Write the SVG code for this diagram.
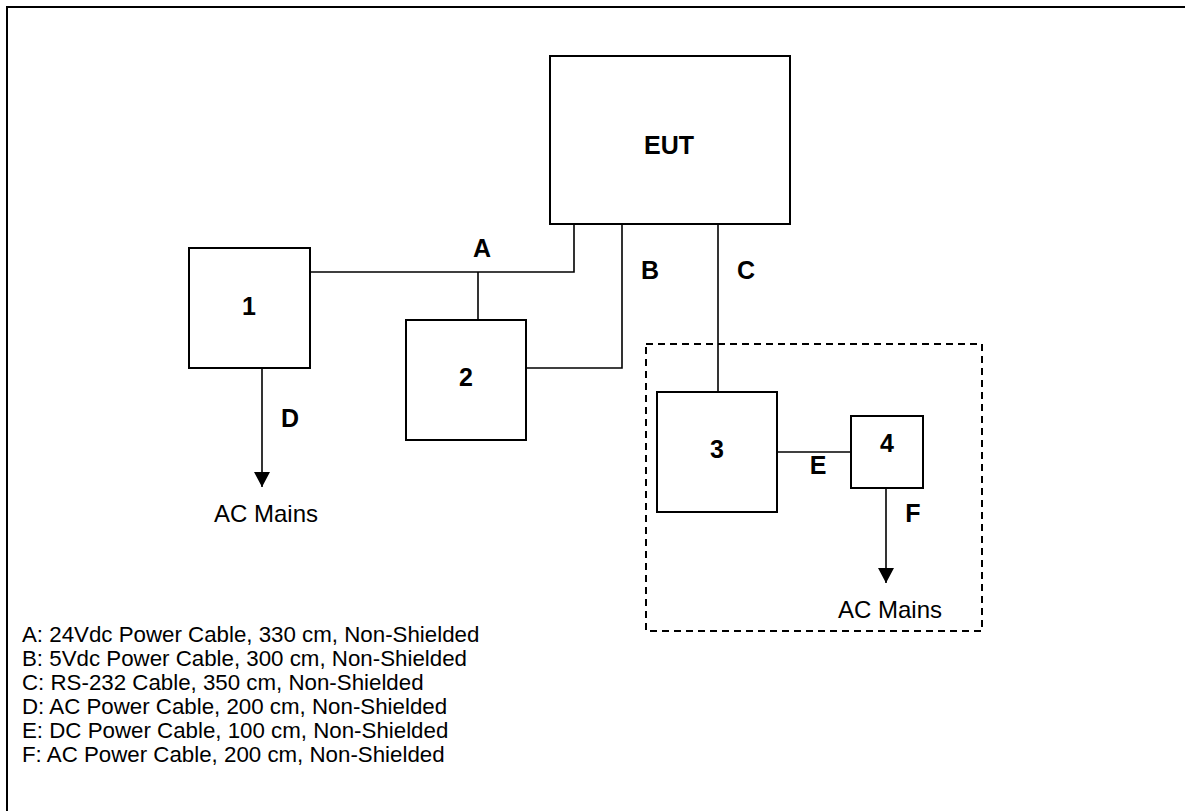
<svg xmlns="http://www.w3.org/2000/svg" width="1185" height="811" viewBox="0 0 1185 811">
<style>
.box{fill:#fff;stroke:#000;stroke-width:2}
.ln{fill:none;stroke:#000;stroke-width:1.6}
.lbl{font-family:"Liberation Sans",Arial,sans-serif;font-size:25px;font-weight:bold;fill:#000;text-anchor:middle}
.txt{font-family:"Liberation Sans",Arial,sans-serif;font-size:24px;fill:#000}
.leg{font-family:"Liberation Sans",Arial,sans-serif;font-size:22.3px;fill:#000}
.mid{text-anchor:middle}
</style>
<defs>
<marker id="arr" markerUnits="userSpaceOnUse" viewBox="0 0 15 16" markerWidth="15" markerHeight="16" refX="15" refY="8" orient="auto">
<path d="M0,0 L15,8 L0,16 Z" fill="#000"/>
</marker>
</defs>
<rect x="7" y="7" width="1200" height="900" fill="#fff" stroke="#000" stroke-width="2"/>
<rect id="enclosure" x="646" y="344" width="336" height="287" fill="none" stroke="#000" stroke-width="2" stroke-dasharray="7 5"/>
<g id="connectors">
<path class="ln" d="M310,272 H574 V224"/>
<path class="ln" d="M478,272 V320"/>
<path class="ln" d="M622,224 V368 H526"/>
<path class="ln" d="M718,224 V392"/>
<path class="ln" d="M777,452 H851"/>
<path class="ln" d="M262,368 V487" marker-end="url(#arr)"/>
<path class="ln" d="M886,488 V583" marker-end="url(#arr)"/>
<text class="lbl" x="482" y="257">A</text>
<text class="lbl" x="650" y="279">B</text>
<text class="lbl" x="746" y="279">C</text>
<text class="lbl" x="290" y="427">D</text>
<text class="lbl" x="818" y="474">E</text>
<text class="lbl" x="913" y="522">F</text>
</g>
<g id="eut">
<rect class="box" x="550" y="56" width="240" height="168"/>
<text class="lbl" x="669" y="154">EUT</text>
</g>
<g id="node1">
<rect class="box" x="189" y="248" width="121" height="120"/>
<text class="lbl" x="249" y="315">1</text>
</g>
<g id="node2">
<rect class="box" x="406" y="320" width="120" height="120"/>
<text class="lbl" x="466" y="386">2</text>
</g>
<g id="node3">
<rect class="box" x="657" y="392" width="120" height="120"/>
<text class="lbl" x="717" y="458">3</text>
</g>
<g id="node4">
<rect class="box" x="851" y="416" width="72" height="72"/>
<text class="lbl" x="887" y="452">4</text>
</g>
<g id="mains1">
<text class="txt mid" x="266" y="522">AC Mains</text>
</g>
<g id="mains2">
<text class="txt mid" x="890" y="618">AC Mains</text>
</g>
<g id="legend">
<text class="leg" x="22" y="642">A: 24Vdc Power Cable, 330 cm, Non-Shielded</text>
<text class="leg" x="22" y="666">B: 5Vdc Power Cable, 300 cm, Non-Shielded</text>
<text class="leg" x="22" y="690">C: RS-232 Cable, 350 cm, Non-Shielded</text>
<text class="leg" x="22" y="714">D: AC Power Cable, 200 cm, Non-Shielded</text>
<text class="leg" x="22" y="738">E: DC Power Cable, 100 cm, Non-Shielded</text>
<text class="leg" x="22" y="762">F: AC Power Cable, 200 cm, Non-Shielded</text>
</g>
</svg>
